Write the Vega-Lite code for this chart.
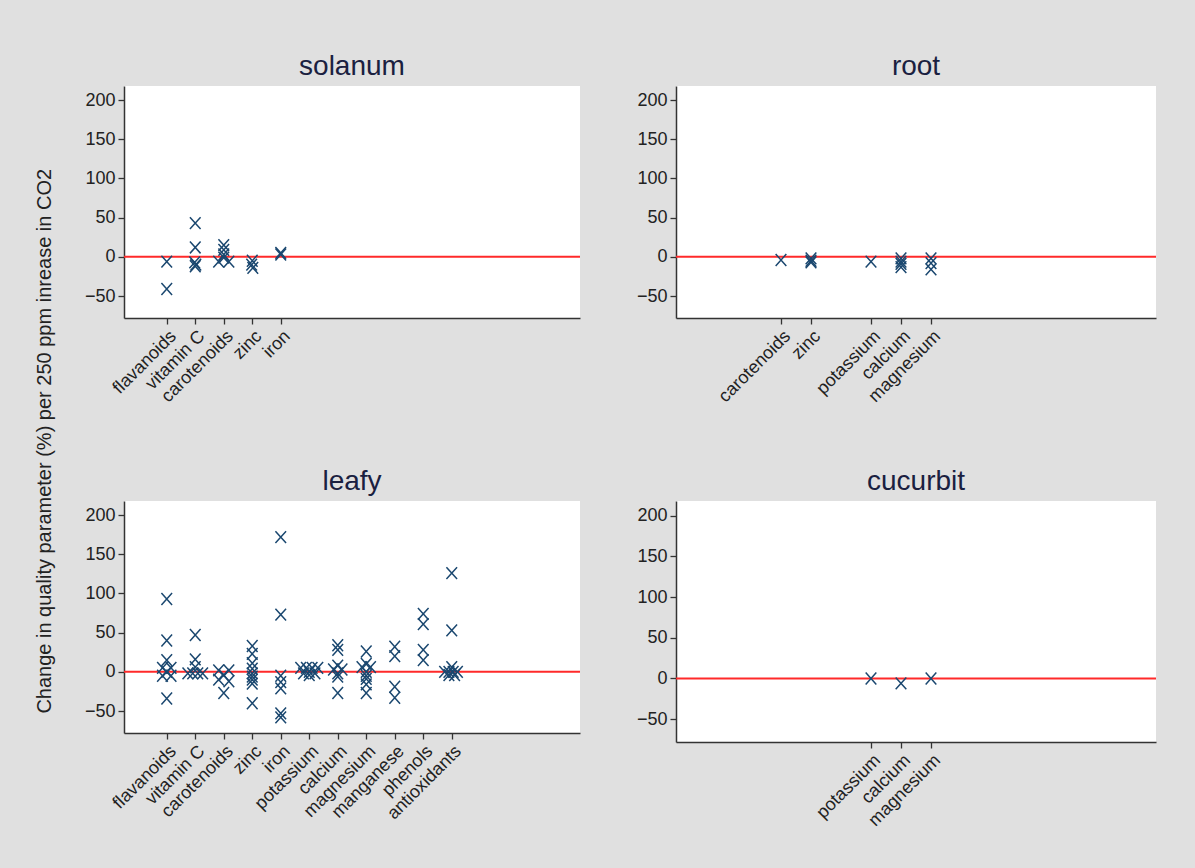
{
  "$schema": "https://vega.github.io/schema/vega-lite/v6.json",
  "background": "#e0e0e0",
  "padding": {"left": 35, "top": 53, "right": 39, "bottom": 38},
  "title": {"text": "Change in quality parameter (%) per 250 ppm inrease in CO2", "orient": "left", "anchor": "middle", "fontSize": 20, "fontWeight": "normal", "color": "#222222", "font": "Liberation Sans", "offset": 29},
  "datasets": {
    "d": [
      {"panel": "solanum", "nutrient": "flavanoids", "pos": 1, "change": -6},
      {"panel": "solanum", "nutrient": "flavanoids", "pos": 1, "change": -41},
      {"panel": "solanum", "nutrient": "vitamin C", "pos": 2, "change": 43},
      {"panel": "solanum", "nutrient": "vitamin C", "pos": 2, "change": 12},
      {"panel": "solanum", "nutrient": "vitamin C", "pos": 1.98, "change": -7},
      {"panel": "solanum", "nutrient": "vitamin C", "pos": 2.02, "change": -10},
      {"panel": "solanum", "nutrient": "vitamin C", "pos": 2, "change": -12},
      {"panel": "solanum", "nutrient": "carotenoids", "pos": 3, "change": 15},
      {"panel": "solanum", "nutrient": "carotenoids", "pos": 3, "change": 9},
      {"panel": "solanum", "nutrient": "carotenoids", "pos": 3, "change": 3},
      {"panel": "solanum", "nutrient": "carotenoids", "pos": 3, "change": -1},
      {"panel": "solanum", "nutrient": "carotenoids", "pos": 2.82, "change": -6},
      {"panel": "solanum", "nutrient": "carotenoids", "pos": 3.18, "change": -6},
      {"panel": "solanum", "nutrient": "zinc", "pos": 4, "change": -5},
      {"panel": "solanum", "nutrient": "zinc", "pos": 3.98, "change": -10},
      {"panel": "solanum", "nutrient": "zinc", "pos": 4.02, "change": -14},
      {"panel": "solanum", "nutrient": "iron", "pos": 5, "change": 5},
      {"panel": "solanum", "nutrient": "iron", "pos": 5, "change": 3},

      {"panel": "root", "nutrient": "carotenoids", "pos": 3, "change": -4},
      {"panel": "root", "nutrient": "zinc", "pos": 4, "change": -2},
      {"panel": "root", "nutrient": "zinc", "pos": 4, "change": -5},
      {"panel": "root", "nutrient": "zinc", "pos": 4, "change": -7},
      {"panel": "root", "nutrient": "potassium", "pos": 6, "change": -6},
      {"panel": "root", "nutrient": "calcium", "pos": 7, "change": -2},
      {"panel": "root", "nutrient": "calcium", "pos": 7, "change": -6},
      {"panel": "root", "nutrient": "calcium", "pos": 7, "change": -9},
      {"panel": "root", "nutrient": "calcium", "pos": 7, "change": -13},
      {"panel": "root", "nutrient": "magnesium", "pos": 8, "change": -2},
      {"panel": "root", "nutrient": "magnesium", "pos": 8, "change": -8},
      {"panel": "root", "nutrient": "magnesium", "pos": 8, "change": -16},

      {"panel": "leafy", "nutrient": "flavanoids", "pos": 1, "change": 93},
      {"panel": "leafy", "nutrient": "flavanoids", "pos": 1, "change": 40},
      {"panel": "leafy", "nutrient": "flavanoids", "pos": 1, "change": 15},
      {"panel": "leafy", "nutrient": "flavanoids", "pos": 0.85, "change": 5},
      {"panel": "leafy", "nutrient": "flavanoids", "pos": 1.15, "change": 5},
      {"panel": "leafy", "nutrient": "flavanoids", "pos": 1, "change": 0},
      {"panel": "leafy", "nutrient": "flavanoids", "pos": 0.85, "change": -5},
      {"panel": "leafy", "nutrient": "flavanoids", "pos": 1.15, "change": -5},
      {"panel": "leafy", "nutrient": "flavanoids", "pos": 1, "change": -34},
      {"panel": "leafy", "nutrient": "vitamin C", "pos": 2, "change": 47},
      {"panel": "leafy", "nutrient": "vitamin C", "pos": 2, "change": 16},
      {"panel": "leafy", "nutrient": "vitamin C", "pos": 2, "change": 6},
      {"panel": "leafy", "nutrient": "vitamin C", "pos": 1.74, "change": -2},
      {"panel": "leafy", "nutrient": "vitamin C", "pos": 1.91, "change": -2},
      {"panel": "leafy", "nutrient": "vitamin C", "pos": 2.09, "change": -2},
      {"panel": "leafy", "nutrient": "vitamin C", "pos": 2.26, "change": -2},
      {"panel": "leafy", "nutrient": "carotenoids", "pos": 2.82, "change": 2},
      {"panel": "leafy", "nutrient": "carotenoids", "pos": 3.18, "change": 2},
      {"panel": "leafy", "nutrient": "carotenoids", "pos": 3, "change": -4},
      {"panel": "leafy", "nutrient": "carotenoids", "pos": 2.82, "change": -10},
      {"panel": "leafy", "nutrient": "carotenoids", "pos": 3.18, "change": -12},
      {"panel": "leafy", "nutrient": "carotenoids", "pos": 3, "change": -27},
      {"panel": "leafy", "nutrient": "zinc", "pos": 4, "change": 33},
      {"panel": "leafy", "nutrient": "zinc", "pos": 4, "change": 23},
      {"panel": "leafy", "nutrient": "zinc", "pos": 4, "change": 11},
      {"panel": "leafy", "nutrient": "zinc", "pos": 4, "change": 4},
      {"panel": "leafy", "nutrient": "zinc", "pos": 4, "change": -2},
      {"panel": "leafy", "nutrient": "zinc", "pos": 4, "change": -6},
      {"panel": "leafy", "nutrient": "zinc", "pos": 4, "change": -10},
      {"panel": "leafy", "nutrient": "zinc", "pos": 4, "change": -15},
      {"panel": "leafy", "nutrient": "zinc", "pos": 4, "change": -40},
      {"panel": "leafy", "nutrient": "iron", "pos": 5, "change": 172},
      {"panel": "leafy", "nutrient": "iron", "pos": 5, "change": 73},
      {"panel": "leafy", "nutrient": "iron", "pos": 5, "change": -5},
      {"panel": "leafy", "nutrient": "iron", "pos": 5, "change": -13},
      {"panel": "leafy", "nutrient": "iron", "pos": 5, "change": -21},
      {"panel": "leafy", "nutrient": "iron", "pos": 5, "change": -53},
      {"panel": "leafy", "nutrient": "iron", "pos": 5, "change": -58},
      {"panel": "leafy", "nutrient": "potassium", "pos": 5.7, "change": 5},
      {"panel": "leafy", "nutrient": "potassium", "pos": 5.9, "change": 5},
      {"panel": "leafy", "nutrient": "potassium", "pos": 6.1, "change": 5},
      {"panel": "leafy", "nutrient": "potassium", "pos": 6.3, "change": 5},
      {"panel": "leafy", "nutrient": "potassium", "pos": 5.8, "change": -2},
      {"panel": "leafy", "nutrient": "potassium", "pos": 6, "change": 0},
      {"panel": "leafy", "nutrient": "potassium", "pos": 6.2, "change": -2},
      {"panel": "leafy", "nutrient": "potassium", "pos": 6, "change": -4},
      {"panel": "leafy", "nutrient": "calcium", "pos": 7, "change": 34},
      {"panel": "leafy", "nutrient": "calcium", "pos": 7, "change": 28},
      {"panel": "leafy", "nutrient": "calcium", "pos": 7, "change": 8},
      {"panel": "leafy", "nutrient": "calcium", "pos": 6.85, "change": 3},
      {"panel": "leafy", "nutrient": "calcium", "pos": 7.15, "change": 3},
      {"panel": "leafy", "nutrient": "calcium", "pos": 7, "change": -2},
      {"panel": "leafy", "nutrient": "calcium", "pos": 7, "change": -6},
      {"panel": "leafy", "nutrient": "calcium", "pos": 7, "change": -27},
      {"panel": "leafy", "nutrient": "magnesium", "pos": 8, "change": 26},
      {"panel": "leafy", "nutrient": "magnesium", "pos": 8, "change": 10},
      {"panel": "leafy", "nutrient": "magnesium", "pos": 7.85, "change": 6},
      {"panel": "leafy", "nutrient": "magnesium", "pos": 8.15, "change": 6},
      {"panel": "leafy", "nutrient": "magnesium", "pos": 8, "change": 0},
      {"panel": "leafy", "nutrient": "magnesium", "pos": 8, "change": -5},
      {"panel": "leafy", "nutrient": "magnesium", "pos": 8, "change": -9},
      {"panel": "leafy", "nutrient": "magnesium", "pos": 8, "change": -16},
      {"panel": "leafy", "nutrient": "magnesium", "pos": 8, "change": -27},
      {"panel": "leafy", "nutrient": "manganese", "pos": 9, "change": 32},
      {"panel": "leafy", "nutrient": "manganese", "pos": 9, "change": 20},
      {"panel": "leafy", "nutrient": "manganese", "pos": 9, "change": -19},
      {"panel": "leafy", "nutrient": "manganese", "pos": 9, "change": -33},
      {"panel": "leafy", "nutrient": "phenols", "pos": 10, "change": 74},
      {"panel": "leafy", "nutrient": "phenols", "pos": 10, "change": 61},
      {"panel": "leafy", "nutrient": "phenols", "pos": 10, "change": 28},
      {"panel": "leafy", "nutrient": "phenols", "pos": 10, "change": 15},
      {"panel": "leafy", "nutrient": "antioxidants", "pos": 11, "change": 126},
      {"panel": "leafy", "nutrient": "antioxidants", "pos": 11, "change": 53},
      {"panel": "leafy", "nutrient": "antioxidants", "pos": 11, "change": 6},
      {"panel": "leafy", "nutrient": "antioxidants", "pos": 10.75, "change": 0},
      {"panel": "leafy", "nutrient": "antioxidants", "pos": 10.9, "change": 0},
      {"panel": "leafy", "nutrient": "antioxidants", "pos": 11.05, "change": 0},
      {"panel": "leafy", "nutrient": "antioxidants", "pos": 11.2, "change": 0},
      {"panel": "leafy", "nutrient": "antioxidants", "pos": 10.9, "change": -4},
      {"panel": "leafy", "nutrient": "antioxidants", "pos": 11.1, "change": -4},

      {"panel": "cucurbit", "nutrient": "potassium", "pos": 6, "change": 0},
      {"panel": "cucurbit", "nutrient": "calcium", "pos": 7, "change": -6},
      {"panel": "cucurbit", "nutrient": "magnesium", "pos": 8, "change": 0}
    ]
  },
  "vconcat": [
    {
      "hconcat": [
        {
          "title": "solanum",
          "width": 456, "height": 232,
          "layer": [
            {"data": {"values": [{"zero": 0}]}, "mark": {"type": "rule", "color": "#ff2a2a", "strokeWidth": 2}, "encoding": {"y": {"field": "zero", "type": "quantitative", "scale": {"domain": [-78, 218], "nice": false, "zero": false}, "axis": {"values": [-50, 0, 50, 100, 150, 200], "title": null}}}},
            {"data": {"name": "d"}, "transform": [{"filter": "datum.panel === 'solanum'"}],
             "mark": {"type": "point", "shape": "M-0.9,-1L0.9,1M-0.9,1L0.9,-1", "filled": false, "size": 140, "strokeWidth": 1.5, "color": "#1a476f", "opacity": 1},
             "encoding": {
               "x": {"field": "pos", "type": "quantitative", "scale": {"domain": [-0.5, 15.5], "nice": false, "zero": false}, "axis": {"values": [1, 2, 3, 4, 5], "title": null}},
               "y": {"field": "change", "type": "quantitative", "scale": {"domain": [-78, 218], "nice": false, "zero": false}, "axis": {"values": [-50, 0, 50, 100, 150, 200], "title": null}}
             }}
          ]
        },
        {
          "title": "root",
          "width": 480, "height": 232,
          "layer": [
            {"data": {"values": [{"zero": 0}]}, "mark": {"type": "rule", "color": "#ff2a2a", "strokeWidth": 2}, "encoding": {"y": {"field": "zero", "type": "quantitative", "scale": {"domain": [-78, 218], "nice": false, "zero": false}, "axis": {"values": [-50, 0, 50, 100, 150, 200], "title": null}}}},
            {"data": {"name": "d"}, "transform": [{"filter": "datum.panel === 'root'"}],
             "mark": {"type": "point", "shape": "M-0.9,-1L0.9,1M-0.9,1L0.9,-1", "filled": false, "size": 140, "strokeWidth": 1.5, "color": "#1a476f", "opacity": 1},
             "encoding": {
               "x": {"field": "pos", "type": "quantitative", "scale": {"domain": [-0.5, 15.5], "nice": false, "zero": false}, "axis": {"values": [3, 4, 6, 7, 8], "title": null}},
               "y": {"field": "change", "type": "quantitative", "scale": {"domain": [-78, 218], "nice": false, "zero": false}, "axis": {"values": [-50, 0, 50, 100, 150, 200], "title": null}}
             }}
          ]
        }
      ],
      "spacing": 55
    },
    {
      "hconcat": [
        {
          "title": "leafy",
          "width": 456, "height": 232,
          "layer": [
            {"data": {"values": [{"zero": 0}]}, "mark": {"type": "rule", "color": "#ff2a2a", "strokeWidth": 2}, "encoding": {"y": {"field": "zero", "type": "quantitative", "scale": {"domain": [-78, 218], "nice": false, "zero": false}, "axis": {"values": [-50, 0, 50, 100, 150, 200], "title": null}}}},
            {"data": {"name": "d"}, "transform": [{"filter": "datum.panel === 'leafy'"}],
             "mark": {"type": "point", "shape": "M-0.9,-1L0.9,1M-0.9,1L0.9,-1", "filled": false, "size": 140, "strokeWidth": 1.5, "color": "#1a476f", "opacity": 1},
             "encoding": {
               "x": {"field": "pos", "type": "quantitative", "scale": {"domain": [-0.5, 15.5], "nice": false, "zero": false}, "axis": {"values": [1, 2, 3, 4, 5, 6, 7, 8, 9, 10, 11], "title": null}},
               "y": {"field": "change", "type": "quantitative", "scale": {"domain": [-78, 218], "nice": false, "zero": false}, "axis": {"values": [-50, 0, 50, 100, 150, 200], "title": null}}
             }}
          ]
        },
        {
          "title": "cucurbit",
          "width": 480, "height": 241,
          "layer": [
            {"data": {"values": [{"zero": 0}]}, "mark": {"type": "rule", "color": "#ff2a2a", "strokeWidth": 2}, "encoding": {"y": {"field": "zero", "type": "quantitative", "scale": {"domain": [-78, 218], "nice": false, "zero": false}, "axis": {"values": [-50, 0, 50, 100, 150, 200], "title": null}}}},
            {"data": {"name": "d"}, "transform": [{"filter": "datum.panel === 'cucurbit'"}],
             "mark": {"type": "point", "shape": "M-0.9,-1L0.9,1M-0.9,1L0.9,-1", "filled": false, "size": 140, "strokeWidth": 1.5, "color": "#1a476f", "opacity": 1},
             "encoding": {
               "x": {"field": "pos", "type": "quantitative", "scale": {"domain": [-0.5, 15.5], "nice": false, "zero": false}, "axis": {"values": [6, 7, 8], "title": null}},
               "y": {"field": "change", "type": "quantitative", "scale": {"domain": [-78, 218], "nice": false, "zero": false}, "axis": {"values": [-50, 0, 50, 100, 150, 200], "title": null}}
             }}
          ]
        }
      ],
      "spacing": 55
    }
  ],
  "spacing": 62,
  "config": {
    "font": "Liberation Sans",
    "view": {"fill": "white", "stroke": null},
    "title": {"fontSize": 28, "fontWeight": "normal", "color": "#1a2040", "font": "Liberation Sans", "offset": 5},
    "axis": {
      "grid": false,
      "domainColor": "#333333",
      "domainWidth": 1.5,
      "tickColor": "#333333",
      "tickWidth": 1.3,
      "tickSize": 6,
      "labelFont": "Liberation Sans",
      "labelFontSize": 18,
      "labelColor": "#222222",
      "labelPadding": 3,
      "labelOverlap": false,
      "labelFlush": false,
      "labelBound": false
    },
    "axisX": {
      "labelAngle": -45,
      "labelExpr": "['','flavanoids','vitamin C','carotenoids','zinc','iron','potassium','calcium','magnesium','manganese','phenols','antioxidants'][datum.value]"
    }
  }
}
